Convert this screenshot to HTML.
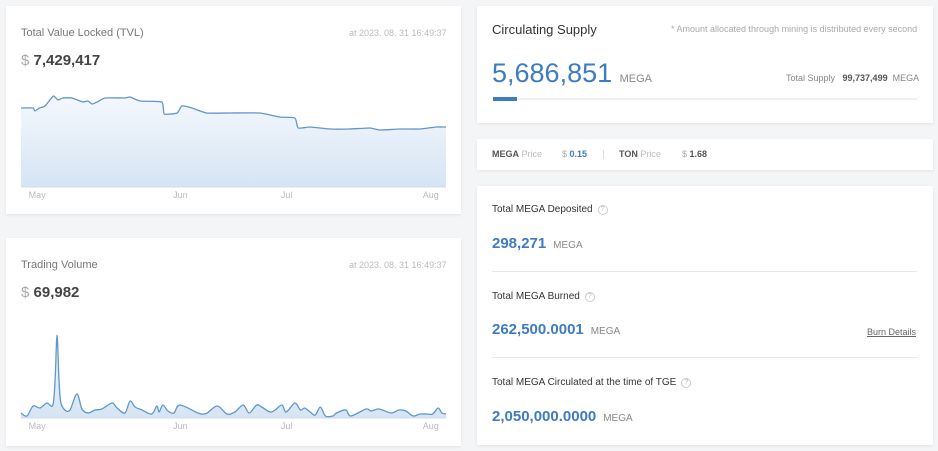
<!DOCTYPE html>
<html><head><meta charset="utf-8">
<style>
*{margin:0;padding:0;box-sizing:border-box}
body{width:938px;height:451px;background:#f4f5f7;font-family:"Liberation Sans",sans-serif;position:relative;overflow:hidden}
.card{position:absolute;background:#fff;box-shadow:0 1px 3px rgba(0,0,0,0.08)}
.t{position:absolute;white-space:nowrap}
.blue{color:#3d7cc0}
.q{display:inline-block;width:10px;height:10px;border:1px solid #ccc;border-radius:50%;font-size:7px;color:#bbb;text-align:center;line-height:8px;margin-left:5px;vertical-align:1px}
</style></head><body>
<div class="card" style="left:6px;top:6px;width:455px;height:208px"></div>
<div class="t" style="left:21px;top:27px;font-size:11px;color:#777">Total Value Locked (TVL)</div>
<div class="t" style="left:349px;top:28px;font-size:9px;color:#bbb">at 2023. 08. 31 16:49:37</div>
<div class="t" style="left:21px;top:52px;font-size:15px;color:#444;font-weight:bold"><span style="color:#aaa;font-weight:normal">$</span> 7,429,417</div>
<svg id="tvl" style="position:absolute;left:0;top:0" width="470" height="220"></svg>

<div class="card" style="left:6px;top:238px;width:455px;height:208px"></div>
<div class="t" style="left:21px;top:259px;font-size:11px;color:#777">Trading Volume</div>
<div class="t" style="left:349px;top:260px;font-size:9px;color:#bbb">at 2023. 08. 31 16:49:37</div>
<div class="t" style="left:21px;top:284px;font-size:15px;color:#444;font-weight:bold"><span style="color:#aaa;font-weight:normal">$</span> 69,982</div>
<svg id="vol" style="position:absolute;left:0;top:0" width="470" height="451"></svg>

<div class="card" style="left:477px;top:6px;width:456px;height:117px"></div>
<div class="t" style="left:492px;top:22px;font-size:13px;color:#333">Circulating Supply</div>
<div class="t" style="left:671px;top:24px;font-size:9px;color:#aaa">* Amount allocated through mining is distributed every second</div>
<div class="t blue" style="left:492px;top:58px;font-size:27px">5,686,851 <span style="font-size:11px;color:#888">MEGA</span></div>
<div class="t" style="left:786px;top:73px;font-size:9px;color:#888">Total Supply &nbsp; <b style="color:#555">99,737,499</b> &nbsp;MEGA</div>
<div style="position:absolute;left:493px;top:98px;width:424px;height:2px;background:#f0f0f0"></div>
<div style="position:absolute;left:493px;top:97px;width:24px;height:4px;background:#3d7cc0"></div>

<div class="card" style="left:477px;top:139px;width:456px;height:31px"></div>
<div class="t" style="left:492px;top:149px;font-size:9px;color:#555"><b>MEGA</b> <span style="color:#bbb">Price</span></div>
<div class="t" style="left:562px;top:149px;font-size:9px;color:#3d7cc0"><span style="color:#aaa">$</span> <b>0.15</b></div>
<div style="position:absolute;left:603px;top:150px;width:1px;height:9px;background:#ddd"></div>
<div class="t" style="left:619px;top:149px;font-size:9px;color:#555"><b>TON</b> <span style="color:#bbb">Price</span></div>
<div class="t" style="left:682px;top:149px;font-size:9px;color:#555"><span style="color:#aaa">$</span> <b>1.68</b></div>

<div class="card" style="left:477px;top:186px;width:456px;height:259px"></div>
<div class="t" style="left:492px;top:204px;font-size:10px;color:#333">Total MEGA Deposited<span class="q">?</span></div>
<div class="t blue" style="left:492px;top:235px;font-size:15px;font-weight:bold">298,271 <span style="font-size:10px;color:#888;font-weight:normal">&nbsp;MEGA</span></div>
<div style="position:absolute;left:492px;top:271px;width:425px;height:1px;background:#e6e8ee"></div>
<div class="t" style="left:492px;top:291px;font-size:10px;color:#333">Total MEGA Burned<span class="q">?</span></div>
<div class="t blue" style="left:492px;top:321px;font-size:15px;font-weight:bold">262,500.0001 <span style="font-size:10px;color:#888;font-weight:normal">&nbsp;MEGA</span></div>
<div class="t" style="left:867px;top:327px;font-size:9px;color:#666;text-decoration:underline">Burn Details</div>
<div style="position:absolute;left:492px;top:357px;width:425px;height:1px;background:#e6e8ee"></div>
<div class="t" style="left:492px;top:377px;font-size:10px;color:#333">Total MEGA Circulated at the time of TGE<span class="q">?</span></div>
<div class="t blue" style="left:492px;top:408px;font-size:15px;font-weight:bold">2,050,000.0000 <span style="font-size:10px;color:#888;font-weight:normal">&nbsp;MEGA</span></div>

<script>
// TVL data (days since chart start, value units)
const tvlDays=[0,2.6,3,4,5.2,7,8,9,11,13.4,14.5,15.4,16.5,18.2,22.5,23.6,25.8,30.5,31,33.8,34.8,37,40.2,45.2,51.7,56,59.3,60,62.6,66.9,71.2,75.5,77.7,82.1,86.4,89.9,92];
const tvlVals=[79,79,76,79,81,91,87,89,89,85,86,83,85,89,89,90,86,85,73,74,81,79,74,74,74,70,69,59,60,58,58,59,57,58,58,60,60];
// Volume data
const volDays=[0,1.3,2.6,4.1,5.6,6.9,7.4,7.8,8.2,8.6,9.5,10.6,12.1,13.2,14.5,16,17.5,19.7,20.8,22.5,23.6,24.7,26.2,28.3,29.4,29.9,30.7,31.8,33.1,34.4,38.3,39.4,40.3,42.5,44.6,46.3,48.1,49.4,51,52.1,53.9,55,56.5,57.4,59.3,60.5,61.4,62.6,63.7,64.8,65.9,67.5,68.3,70.3,71.4,74.7,75.8,77.5,80.1,81.8,83.3,84.9,86.4,87.9,89.1,90.3,91.1,92];
const volVals=[5,2,12,10,15,13,40,83,40,16,8,8,24,9,5,8,9,15,10,5,17,11,8,4,12,6,13,7,5,13,5,4,5,12,4,6,13,5,13,11,6,8,13,6,15,8,10,6,3,11,2,2,5,8,2,9,7,9,5,8,7,2,4,4,4,10,5,4];
const tickLabels=["May","Jun","Jul","Aug"];
const tickDays=[3.5,34.5,57.5,88.7];
const NS="http://www.w3.org/2000/svg";
function path(xs,ys,k){let d="M"+xs[0]+","+ys[0];for(let i=0;i<xs.length-1;i++){const x0=xs[Math.max(i-1,0)],y0=ys[Math.max(i-1,0)],x1=xs[i],y1=ys[i],x2=xs[i+1],y2=ys[i+1],x3=xs[Math.min(i+2,xs.length-1)],y3=ys[Math.min(i+2,xs.length-1)];d+=" C"+(x1+(x2-x0)*k)+","+(y1+(y2-y0)*k)+" "+(x2-(x3-x1)*k)+","+(y2-(y3-y1)*k)+" "+x2+","+y2;}return d;}
function chart(svg,days,vals,bottom,k,gid){
  const xS=d=>21+d*(425/92), yS=v=>bottom-v;
  const xs=days.map(xS), ys=vals.map(yS);
  const defs=document.createElementNS(NS,"defs");
  defs.innerHTML='<linearGradient id="'+gid+'" x1="0" y1="0" x2="0" y2="1"><stop offset="0" stop-color="#f4f8fd"/><stop offset="1" stop-color="#d6e4f3"/></linearGradient>';
  svg.appendChild(defs);
  const lp=path(xs,ys,k);
  const area=document.createElementNS(NS,"path");
  area.setAttribute("d",lp+" L446,"+bottom+" L21,"+bottom+" Z");
  area.setAttribute("fill","url(#"+gid+")");
  
  
  svg.appendChild(area);
  const line=document.createElementNS(NS,"path");
  line.setAttribute("d",lp);line.setAttribute("fill","none");line.setAttribute("stroke","#5f97cc");line.setAttribute("stroke-width","1.3");
  
  
  svg.appendChild(line);
  const ax=document.createElementNS(NS,"line");
  ax.setAttribute("x1",21);ax.setAttribute("x2",446);ax.setAttribute("y1",bottom);ax.setAttribute("y2",bottom);ax.setAttribute("stroke","#cfdcea");
  
  
  svg.appendChild(ax);
  tickLabels.forEach((l,i)=>{const t=document.createElementNS(NS,"text");t.setAttribute("x",xS(tickDays[i]));t.setAttribute("y",bottom+11);t.setAttribute("text-anchor","middle");t.setAttribute("font-size","9");t.setAttribute("fill","#bbb");t.setAttribute("font-family","Liberation Sans, sans-serif");t.textContent=l;
  
  
  svg.appendChild(t);});
}
chart(document.getElementById("tvl"),tvlDays,tvlVals,187,0.08,"g1");
chart(document.getElementById("vol"),volDays,volVals,418,0.16,"g2");
</script>
</body></html>
